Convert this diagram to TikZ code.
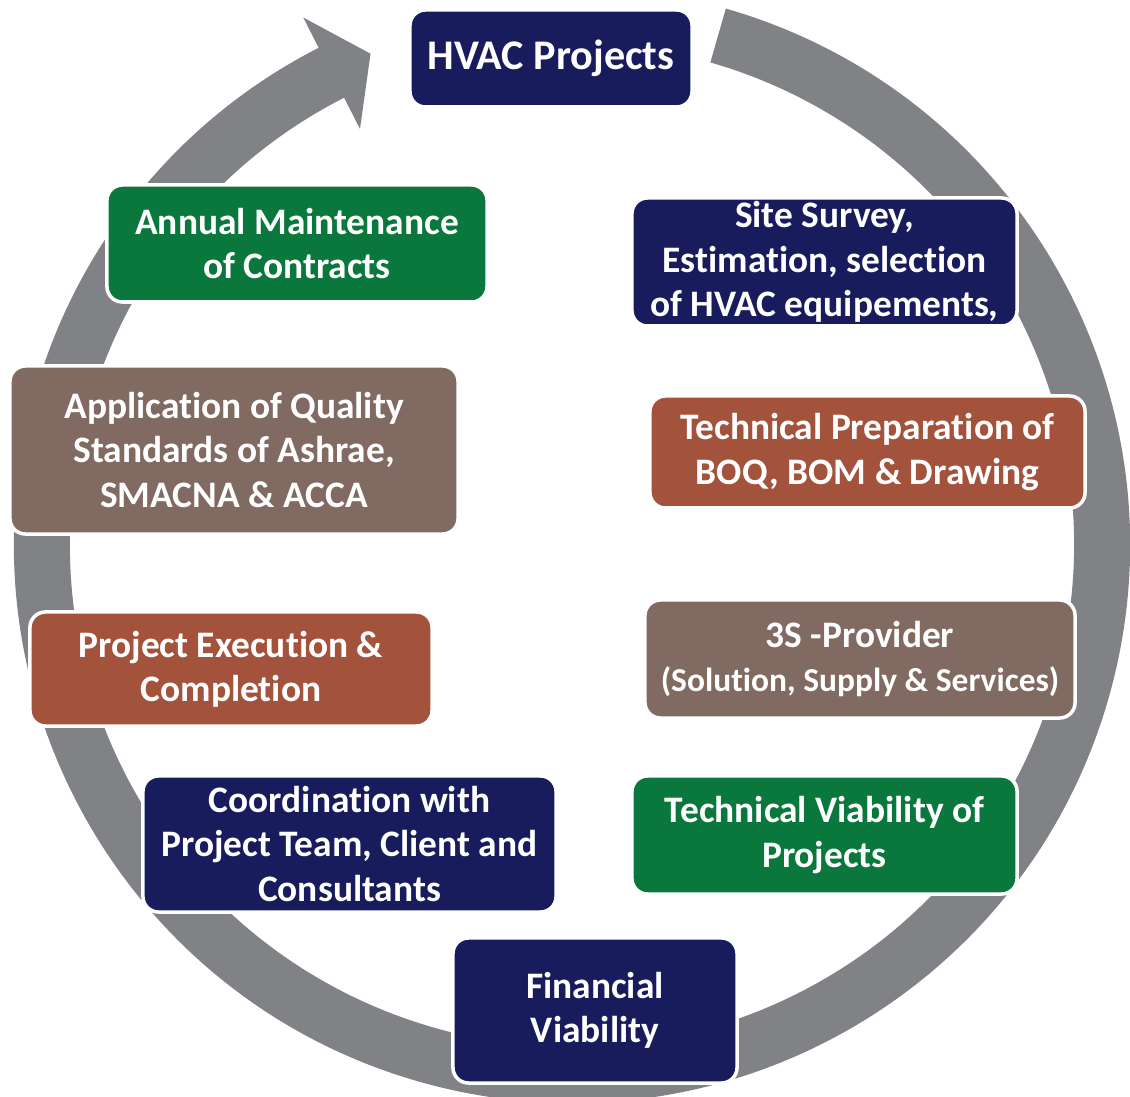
\documentclass[tikz,border=0pt]{standalone}
\usepackage{fontspec}
\setmainfont{Carlito}[Ligatures=NoCommon]
\definecolor{navyb}{RGB}{24,28,92}
\definecolor{greenb}{RGB}{10,120,60}
\definecolor{brickb}{RGB}{163,82,60}
\definecolor{taupeb}{RGB}{128,106,98}
\definecolor{ringgray}{RGB}{128,130,134}
\tikzset{
  box/.style={rounded corners=11pt, draw=white, line width=2.5pt, text=white,
    align=center, inner sep=0pt,
    font=\bfseries\fontsize{26.6}{31.5}\selectfont},
}
\begin{document}
\begin{tikzpicture}[x=0.025cm,y=0.025cm]
\fill[white] (0,0) rectangle (1130,1097);
\useasboundingbox (0,0) rectangle (1130,1097);
% ring arrow
\begin{scope}[shift={(572,552)}]
\fill[ringgray] (74:558) arc[start angle=74,end angle=-243,radius=558]
  -- (117:592) -- (112.3:531) -- (117:467) -- (117:502)
  arc[start angle=-243,end angle=74,radius=502] -- cycle;
\end{scope}
% boxes
\node[box, fill=navyb, minimum width=7.05cm, minimum height=2.425cm,
  font=\bfseries\fontsize{30}{36}\selectfont] (hvac) at (551,1038.5) {HVAC Projects};
\node[box, fill=greenb, minimum width=9.5cm, minimum height=2.925cm] (amc) at (297,853.5)
  {Annual Maintenance\\of Contracts};
\node[box, fill=navyb, minimum width=9.625cm, minimum height=3.2cm] (site) at (824.5,835)
  {Site Survey,\\Estimation, selection\\of HVAC equipements,};
\node[box, fill=taupeb, minimum width=11.2cm, minimum height=4.2cm] (qual) at (234,647)
  {Application of Quality\\Standards of Ashrae,\\SMACNA \& ACCA};
\node[box, fill=brickb, minimum width=10.875cm, minimum height=2.8cm] (boq) at (867.5,645)
  {Technical Preparation of\\BOQ, BOM \& Drawing};
\node[box, fill=brickb, minimum width=10.05cm, minimum height=2.85cm] (exec) at (231,428)
  {Project Execution \&\\Completion};
\node[box, fill=taupeb, minimum width=10.75cm, minimum height=2.95cm] (threes) at (860,438)
  {3S -Provider\\{\fontsize{23.8}{28}\selectfont (Solution, Supply \& Services)}};
\node[box, fill=navyb, minimum width=10.325cm, minimum height=3.4cm] (coord) at (349.5,253)
  {Coordination with\\Project Team, Client and\\Consultants};
\node[box, fill=greenb, minimum width=9.625cm, minimum height=2.95cm] (tech) at (824.5,262)
  {Technical Viability of\\Projects};
\node[box, fill=navyb, minimum width=7.1cm, minimum height=3.625cm] (fin) at (595,86.5)
  {Financial\\Viability};
\end{tikzpicture}
\end{document}
